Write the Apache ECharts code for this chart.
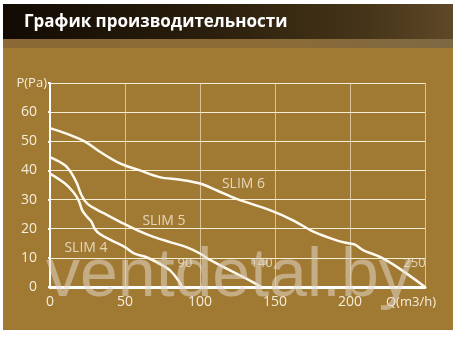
<!DOCTYPE html>
<html><head><meta charset="utf-8">
<script src="https://cdn.jsdelivr.net/npm/echarts@6/dist/echarts.min.js"></script>
<style>html,body{margin:0;padding:0;background:#fff;}#c{width:458px;height:338px;}</style>
</head><body><div id="c"></div>
<script>
const title = 'График производительности';
const xTickLabels = ['0', '50', '100', '150', '200', ''];
const yTickLabels = ['0', '10', '20', '30', '40', '50', '60', ''];
const xName = 'Q(m3/h)';
const yName = 'P(Pa)';
const seriesNames = ['SLIM 6', 'SLIM 5', 'SLIM 4'];
const slim6 = [[0,54.5],[10,52.8],[23,50],[33,46.5],[47,42.3],[60,40],[73,37.7],[87,36.8],[100,35.5],[111,33.2],[124,30.3],[147,26.3],[162,22.9],[176,18.9],[191,16],[198,15.1],[203,14.6],[209,12.6],[220,10.3],[233,6.3],[250,0]];
const slim5 = [[0,44.6],[10,41.8],[14.5,38.9],[18,35.5],[21,31.5],[25,28.5],[32,26.3],[37,25],[47,22.3],[58,19.5],[69,17.2],[80,15.4],[91,13.7],[100,11.5],[107,9.2],[120,5.7],[133,2.3],[141,0]];
const slim4 = [[0,38.9],[10,35.5],[15.5,32.6],[19,29.8],[21.5,26.3],[24.5,24.2],[27.5,22.5],[30,19.8],[33,18.3],[41,16],[50,13.7],[56,11.5],[64,10.3],[73,8],[80,5.7],[85.5,2.3],[88,0]];
const curveLabels = ['SLIM 6', 'SLIM 5', 'SLIM 4'];
const curveLabelX = [129, 76, 24];
const curveLabelY = [35.4, 22.6, 13.4];
const endLabels = ['90', '140', '250'];
const endLabelX = [90, 141, 243];
const endLabelY = [8.1, 8.1, 8.1];
const watermark = 'ventdetal.by';

const cream = '#f6eedb';
const chart = echarts.init(document.getElementById('c'));
const lineStyle = {color: '#fffaf0', width: 2.5};
chart.setOption({
  animation: false,
  backgroundColor: '#ffffff',
  graphic: [
    {type: 'rect', z: -10, shape: {x: 3, y: 4, width: 450, height: 326}, style: {fill: '#a07932'}, silent: true},
    {type: 'rect', z: -9, shape: {x: 3, y: 39, width: 450, height: 9}, style: {fill: new echarts.graphic.LinearGradient(0,0,1,0,[{offset:0,color:'#8a6934'},{offset:0.6,color:'#8c6b36'},{offset:1,color:'#7d6844'}])}, silent: true},
    {type: 'rect', z: -9, shape: {x: 3, y: 4, width: 450, height: 35}, style: {fill: new echarts.graphic.LinearGradient(0,0,1,0,[{offset:0,color:'#120b03'},{offset:0.45,color:'#2a1e0c'},{offset:0.8,color:'#453418'},{offset:1,color:'#5e4828'}])}, silent: true},
    {type: 'text', z: 5, x: 24, y: 22, style: {text: title, fill: '#ffffff', font: 'bold 17px "Open Sans"', verticalAlign: 'middle', align: 'left'}},
    {type: 'text', z: 100, x: 46, y: 277, style: {text: watermark, fill: 'rgba(225,215,200,0.55)', font: '68px "Liberation Sans"', verticalAlign: 'middle', align: 'left'}, silent: true}
  ],
  grid: {left: 50, right: 33, top: 83, bottom: 51},
  xAxis: {
    type: 'value', min: 0, max: 250, interval: 50,
    name: xName, nameLocation: 'end', nameGap: -39,
    nameTextStyle: {color: cream, fontSize: 13, fontFamily: 'Open Sans', align: 'left', verticalAlign: 'top', padding: [9,0,0,0]},
    axisLine: {show: true, lineStyle: {color: '#ffffff', width: 3}},
    axisTick: {show: false},
    axisLabel: {color: cream, fontSize: 14, fontFamily: 'Open Sans', margin: 8, formatter: (v, i) => xTickLabels[i]},
    splitLine: {show: true, lineStyle: {color: 'rgba(235,220,185,0.75)', width: 1}}
  },
  yAxis: {
    type: 'value', min: 0, max: 70, interval: 10,
    name: yName, nameLocation: 'end', nameGap: 0,
    nameTextStyle: {color: cream, fontSize: 13, fontFamily: 'Open Sans', align: 'right', verticalAlign: 'middle', padding: [0,3,0,0]},
    axisLine: {show: true, lineStyle: {color: '#ffffff', width: 2}},
    axisTick: {show: true, length: 2, lineStyle: {color: '#ffffff', width: 2}},
    axisLabel: {color: cream, fontSize: 14, fontFamily: 'Open Sans', margin: 13, formatter: (v, i) => yTickLabels[i]},
    splitLine: {show: true, lineStyle: {color: '#f6efd6', width: 1}}
  },
  series: [
    {name: seriesNames[0], type: 'line', data: slim6, smooth: 0.35, showSymbol: false, lineStyle: lineStyle, z: 3},
    {name: seriesNames[1], type: 'line', data: slim5, smooth: 0.35, showSymbol: false, lineStyle: lineStyle, z: 3},
    {name: seriesNames[2], type: 'line', data: slim4, smooth: 0.35, showSymbol: false, lineStyle: lineStyle, z: 3},
    {type: 'scatter', symbolSize: 0, z: 4, silent: true,
      data: curveLabels.map((n, i) => ({value: [curveLabelX[i], curveLabelY[i]], name: n})),
      label: {show: true, position: 'inside', formatter: p => p.name, color: cream, fontSize: 14, fontFamily: 'Open Sans'}},
    {type: 'scatter', symbolSize: 0, z: 4, silent: true,
      data: endLabels.map((n, i) => ({value: [endLabelX[i], endLabelY[i]], name: n})),
      label: {show: true, position: 'inside', formatter: p => p.name, color: '#efe6d4', fontSize: 13, fontFamily: 'Open Sans'}}
  ]
});
</script></body></html>
